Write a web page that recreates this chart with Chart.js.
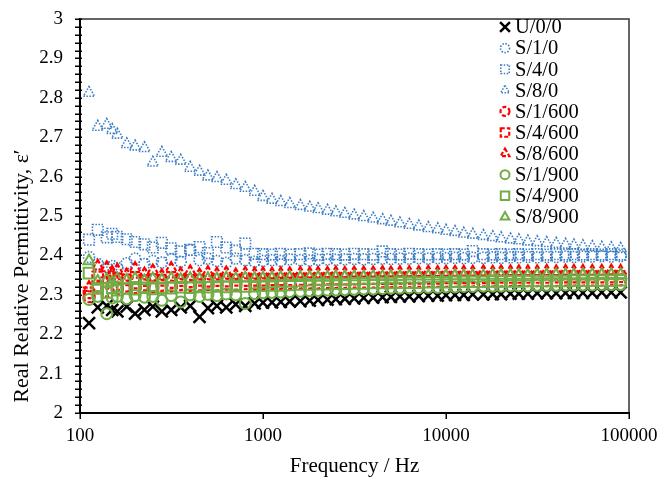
<!DOCTYPE html>
<html>
<head>
<meta charset="utf-8">
<script src="https://cdn.jsdelivr.net/npm/chart.js@4.4.0/dist/chart.umd.min.js"></script>
<style>
  html, body { margin: 0; padding: 0; background: #fff; }
  canvas { display: block; }
</style>
</head>
<body>
<canvas id="permChart" width="661" height="479"></canvas>
<script>
// measured frequencies (Hz)
const frequencies = [112, 125, 140, 150, 160, 180, 200, 225, 250, 280,
  315, 355, 400, 450, 500, 560, 630, 710, 800, 900,
  1000, 1120, 1250, 1400, 1600, 1800, 2000, 2250, 2500, 2800,
  3150, 3550, 4000, 4500, 5000, 5600, 6300, 7100, 8000, 9000,
  10000, 11200, 12500, 14000, 16000, 18000, 20000, 22500, 25000, 28000,
  31500, 35500, 40000, 45000, 50000, 56000, 63000, 71000, 80000, 90000];

const seriesNames = ['U/0/0', 'S/1/0', 'S/4/0', 'S/8/0', 'S/1/600', 'S/4/600', 'S/8/600', 'S/1/900', 'S/4/900', 'S/8/900'];

const u00 = [2.228, 2.268, 2.272, 2.262, 2.258, 2.270, 2.252, 2.262, 2.270, 2.258,
  2.262, 2.268, 2.272, 2.244, 2.266, 2.272, 2.268, 2.276, 2.272, 2.278,
  2.280, 2.281, 2.282, 2.283, 2.284, 2.285, 2.287, 2.288, 2.289, 2.290,
  2.291, 2.292, 2.293, 2.294, 2.295, 2.296, 2.296, 2.297, 2.298, 2.298,
  2.299, 2.300, 2.300, 2.301, 2.301, 2.302, 2.302, 2.303, 2.303, 2.303,
  2.304, 2.304, 2.304, 2.305, 2.305, 2.305, 2.305, 2.306, 2.306, 2.306];
const s10 = [2.396, 2.378, 2.370, 2.373, 2.368, 2.380, 2.392, 2.378, 2.386, 2.382,
  2.390, 2.384, 2.414, 2.388, 2.392, 2.386, 2.381, 2.392, 2.388, 2.384,
  2.386, 2.388, 2.386, 2.390, 2.388, 2.387, 2.389, 2.390, 2.389, 2.390,
  2.391, 2.390, 2.391, 2.392, 2.391, 2.392, 2.392, 2.393, 2.392, 2.393,
  2.393, 2.394, 2.393, 2.394, 2.394, 2.395, 2.394, 2.395, 2.395, 2.396,
  2.395, 2.396, 2.396, 2.397, 2.396, 2.397, 2.397, 2.398, 2.397, 2.398];
const s40 = [2.440, 2.465, 2.446, 2.455, 2.447, 2.441, 2.434, 2.428, 2.420, 2.432,
  2.418, 2.410, 2.414, 2.421, 2.406, 2.434, 2.420, 2.412, 2.430, 2.404,
  2.403, 2.402, 2.404, 2.402, 2.403, 2.405, 2.402, 2.404, 2.403, 2.402,
  2.404, 2.403, 2.402, 2.410, 2.403, 2.402, 2.404, 2.403, 2.402, 2.403,
  2.402, 2.403, 2.402, 2.411, 2.403, 2.402, 2.403, 2.402, 2.403, 2.402,
  2.403, 2.402, 2.403, 2.402, 2.403, 2.402, 2.403, 2.402, 2.403, 2.402];
const s80 = [2.812, 2.726, 2.731, 2.718, 2.706, 2.682, 2.676, 2.672, 2.635, 2.660,
  2.647, 2.640, 2.622, 2.612, 2.600, 2.596, 2.589, 2.578, 2.571, 2.561,
  2.548, 2.541, 2.535, 2.530, 2.525, 2.521, 2.517, 2.513, 2.509, 2.505,
  2.501, 2.497, 2.493, 2.489, 2.485, 2.481, 2.477, 2.473, 2.469, 2.466,
  2.462, 2.459, 2.455, 2.452, 2.449, 2.446, 2.443, 2.440, 2.438, 2.435,
  2.433, 2.431, 2.429, 2.427, 2.425, 2.423, 2.421, 2.419, 2.418, 2.416];
const s1600 = [2.295, 2.322, 2.310, 2.326, 2.316, 2.322, 2.318, 2.325, 2.320, 2.324,
  2.322, 2.326, 2.324, 2.325, 2.326, 2.325, 2.327, 2.326, 2.328, 2.327,
  2.328, 2.328, 2.329, 2.329, 2.330, 2.330, 2.330, 2.331, 2.331, 2.331,
  2.332, 2.332, 2.332, 2.333, 2.333, 2.333, 2.333, 2.334, 2.334, 2.334,
  2.334, 2.334, 2.335, 2.335, 2.335, 2.335, 2.335, 2.336, 2.336, 2.336,
  2.336, 2.336, 2.336, 2.337, 2.337, 2.337, 2.337, 2.337, 2.338, 2.338];
const s4600 = [2.305, 2.345, 2.330, 2.341, 2.326, 2.338, 2.330, 2.336, 2.323, 2.337,
  2.331, 2.336, 2.333, 2.337, 2.334, 2.336, 2.335, 2.337, 2.336, 2.337,
  2.337, 2.338, 2.338, 2.338, 2.339, 2.339, 2.339, 2.340, 2.340, 2.340,
  2.340, 2.341, 2.341, 2.341, 2.341, 2.342, 2.342, 2.342, 2.342, 2.342,
  2.343, 2.343, 2.343, 2.343, 2.343, 2.343, 2.344, 2.344, 2.344, 2.344,
  2.344, 2.344, 2.345, 2.345, 2.345, 2.345, 2.345, 2.345, 2.345, 2.346];
const s8600 = [2.318, 2.372, 2.368, 2.356, 2.362, 2.350, 2.366, 2.352, 2.360, 2.348,
  2.366, 2.352, 2.358, 2.350, 2.356, 2.352, 2.355, 2.350, 2.354, 2.352,
  2.353, 2.352, 2.353, 2.353, 2.354, 2.353, 2.354, 2.354, 2.355, 2.354,
  2.355, 2.355, 2.355, 2.356, 2.355, 2.356, 2.356, 2.356, 2.357, 2.356,
  2.357, 2.357, 2.357, 2.357, 2.358, 2.357, 2.358, 2.358, 2.358, 2.358,
  2.358, 2.359, 2.358, 2.359, 2.359, 2.359, 2.359, 2.359, 2.360, 2.359];
const s1900 = [2.288, 2.296, 2.252, 2.292, 2.296, 2.290, 2.298, 2.294, 2.296, 2.286,
  2.298, 2.282, 2.300, 2.296, 2.301, 2.298, 2.302, 2.300, 2.278, 2.303,
  2.305, 2.306, 2.307, 2.308, 2.309, 2.310, 2.311, 2.312, 2.312, 2.313,
  2.314, 2.315, 2.315, 2.316, 2.317, 2.317, 2.318, 2.318, 2.319, 2.319,
  2.320, 2.320, 2.321, 2.321, 2.322, 2.322, 2.322, 2.323, 2.323, 2.323,
  2.324, 2.324, 2.324, 2.325, 2.325, 2.325, 2.325, 2.326, 2.326, 2.326];
const s4900 = [2.355, 2.316, 2.306, 2.318, 2.312, 2.316, 2.314, 2.318, 2.315, 2.318,
  2.317, 2.319, 2.318, 2.320, 2.319, 2.321, 2.320, 2.322, 2.321, 2.322,
  2.323, 2.324, 2.324, 2.325, 2.326, 2.326, 2.327, 2.327, 2.328, 2.328,
  2.329, 2.329, 2.330, 2.330, 2.330, 2.331, 2.331, 2.331, 2.332, 2.332,
  2.332, 2.333, 2.333, 2.333, 2.333, 2.334, 2.334, 2.334, 2.334, 2.335,
  2.335, 2.335, 2.335, 2.335, 2.336, 2.336, 2.336, 2.336, 2.336, 2.337];
const s8900 = [2.386, 2.334, 2.338, 2.332, 2.340, 2.336, 2.341, 2.335, 2.340, 2.337,
  2.341, 2.338, 2.341, 2.339, 2.341, 2.340, 2.342, 2.340, 2.342, 2.341,
  2.342, 2.342, 2.343, 2.343, 2.343, 2.344, 2.344, 2.344, 2.345, 2.345,
  2.345, 2.345, 2.346, 2.346, 2.346, 2.346, 2.347, 2.347, 2.347, 2.347,
  2.348, 2.348, 2.348, 2.348, 2.348, 2.349, 2.349, 2.349, 2.349, 2.349,
  2.350, 2.350, 2.350, 2.350, 2.350, 2.350, 2.351, 2.351, 2.351, 2.351];

const xTickValues = [100, 1000, 10000, 100000];
const yTickLabels = ['2', '2.1', '2.2', '2.3', '2.4', '2.5', '2.6', '2.7', '2.8', '2.9', '3'];

const BLUE = '#3b7dc4';
const RED = '#ff0000';
const GREEN = '#70ad47';
const FONT = '"Liberation Serif", "Times New Roman", serif';

// marker styles: shape, colour, dash pattern, size
const styles = [
  { shape: 'crossRot', color: '#000000', dash: [], width: 2.5, r: 8.5, lr: 7 },
  { shape: 'circle', color: BLUE, dash: [1.5, 1.5], width: 1.6, r: 5.5, lr: 4.5 },
  { shape: 'rect', color: BLUE, dash: [1.5, 1.5], width: 1.6, r: 7.5, lr: 6 },
  { shape: 'triangle', color: BLUE, dash: [1.5, 1.5], width: 1.6, r: 6.5, lr: 5 },
  { shape: 'circle', color: RED, dash: [4, 2], width: 2.2, r: 5.5, lr: 4.5 },
  { shape: 'rect', color: RED, dash: [4, 2], width: 2.2, r: 7.5, lr: 6 },
  { shape: 'triangle', color: RED, dash: [4, 2], width: 2.2, r: 6.5, lr: 5 },
  { shape: 'circle', color: GREEN, dash: [], width: 2, r: 5.5, lr: 4.5 },
  { shape: 'rect', color: GREEN, dash: [], width: 2, r: 7.5, lr: 6 },
  { shape: 'triangle', color: GREEN, dash: [], width: 2, r: 6.5, lr: 5 }
];

const allSeries = [u00, s10, s40, s80, s1600, s4600, s8600, s1900, s4900, s8900];

const datasets = allSeries.map((vals, i) => ({
  label: seriesNames[i],
  data: frequencies.map((f, j) => ({ x: f, y: vals[j] })),
  showLine: false,
  pointStyle: styles[i].shape,
  pointRadius: styles[i].r,
  pointBorderWidth: styles[i].width,
  pointBorderColor: styles[i].color,
  pointBackgroundColor: 'rgba(0,0,0,0)',
  order: 10 - i
}));

// dotted / dashed marker outlines
const markerDash = {
  id: 'markerDash',
  beforeDatasetDraw(chart, args) {
    chart.ctx.setLineDash(styles[args.index].dash);
  },
  afterDatasetDraw(chart) {
    chart.ctx.setLineDash([]);
  }
};

const frameAndLegend = {
  id: 'frameAndLegend',
  afterDraw(chart) {
    const ctx = chart.ctx;
    const a = chart.chartArea;
    ctx.save();
    // top and right frame lines
    ctx.strokeStyle = '#333';
    ctx.lineWidth = 1.5;
    ctx.beginPath();
    ctx.moveTo(a.left, a.top);
    ctx.lineTo(a.right, a.top);
    ctx.lineTo(a.right, a.bottom);
    ctx.stroke();

    // tick marks crossing the axes
    ctx.strokeStyle = '#000';
    ctx.lineWidth = 1.5;
    ctx.beginPath();
    chart.scales.y.ticks.forEach(t => {
      const py = Math.round(chart.scales.y.getPixelForValue(t.value)) + 0.25;
      ctx.moveTo(a.left - 5, py);
      ctx.lineTo(a.left + 2, py);
    });
    chart.scales.x.ticks.forEach(t => {
      const px = Math.round(chart.scales.x.getPixelForValue(t.value)) + 0.25;
      ctx.moveTo(px, a.bottom - 1);
      ctx.lineTo(px, a.bottom + 6);
    });
    ctx.stroke();

    // y axis title
    ctx.fillStyle = '#000';
    ctx.font = '22px ' + FONT;
    ctx.textAlign = 'center';
    ctx.textBaseline = 'middle';
    ctx.translate(22, 276);
    ctx.rotate(-Math.PI / 2);
    ctx.fillText('Real Relative Permittivity, \u03b5\u2032', 0, 0);
    ctx.restore();

    // legend
    ctx.save();
    ctx.font = '20.5px ' + FONT;
    ctx.textAlign = 'left';
    ctx.textBaseline = 'middle';
    seriesNames.forEach((name, i) => {
      const y = 27 + i * 21.1;
      const s = styles[i];
      ctx.strokeStyle = s.color;
      ctx.fillStyle = 'rgba(0,0,0,0)';
      ctx.lineWidth = s.width;
      ctx.setLineDash(s.dash);
      Chart.helpers.drawPoint(ctx, { pointStyle: s.shape, radius: s.lr, rotation: 0, borderWidth: s.width }, 505, y);
      ctx.setLineDash([]);
      ctx.fillStyle = '#000';
      ctx.fillText(name, 515, y + 1);
    });
    ctx.restore();
  }
};

// drop the label-overflow padding so the plot box is set by layout.padding alone
function noOverflow(scale) {
  scale.paddingTop = 0;
  scale.paddingBottom = 0;
  scale.paddingLeft = 0;
  scale.paddingRight = 0;
}

new Chart(document.getElementById('permChart'), {
  type: 'scatter',
  data: { datasets: datasets },
  options: {
    responsive: false,
    animation: false,
    events: [],
    layout: { padding: { top: 19, right: 32, left: 0, bottom: 0 } },
    plugins: { legend: { display: false }, tooltip: { enabled: false } },
    scales: {
      x: {
        type: 'logarithmic',
        min: 100,
        max: 100000,
        afterBuildTicks: scale => { scale.ticks = xTickValues.map(v => ({ value: v })); },
        afterFit: scale => { scale.height = 66; noOverflow(scale); },
        ticks: {
          color: '#000',
          font: { family: FONT, size: 19 },
          padding: 12,
          maxRotation: 0,
          autoSkip: false,
          callback: v => String(v)
        },
        grid: { drawOnChartArea: false, drawTicks: false },
        border: { color: '#000', width: 2 },
        title: {
          display: true,
          text: 'Frequency / Hz',
          color: '#000',
          font: { family: FONT, size: 21 },
          padding: { top: 4, bottom: 0 }
        }
      },
      y: {
        min: 2,
        max: 3,
        afterBuildTicks: scale => {
          const majors = yTickLabels.map(Number);
          const t = [];
          for (let i = 0; i < majors.length; i++) {
            t.push({ value: majors[i] });
            if (i < majors.length - 1) {
              for (let k = 1; k < 5; k++) t.push({ value: majors[i] + (majors[i + 1] - majors[i]) * k / 5 });
            }
          }
          scale.ticks = t;
        },
        afterFit: scale => { scale.width = 80; noOverflow(scale); },
        ticks: {
          color: '#000',
          font: { family: FONT, size: 19 },
          padding: 17,
          autoSkip: false,
          callback: v => {
            const idx = yTickLabels.map(Number).findIndex(m => Math.abs(m - v) < 1e-9);
            return idx >= 0 ? yTickLabels[idx] : '';
          }
        },
        grid: { drawOnChartArea: false, drawTicks: false },
        border: { color: '#000', width: 2 }
      }
    }
  },
  plugins: [markerDash, frameAndLegend]
});
</script>
</body>
</html>
